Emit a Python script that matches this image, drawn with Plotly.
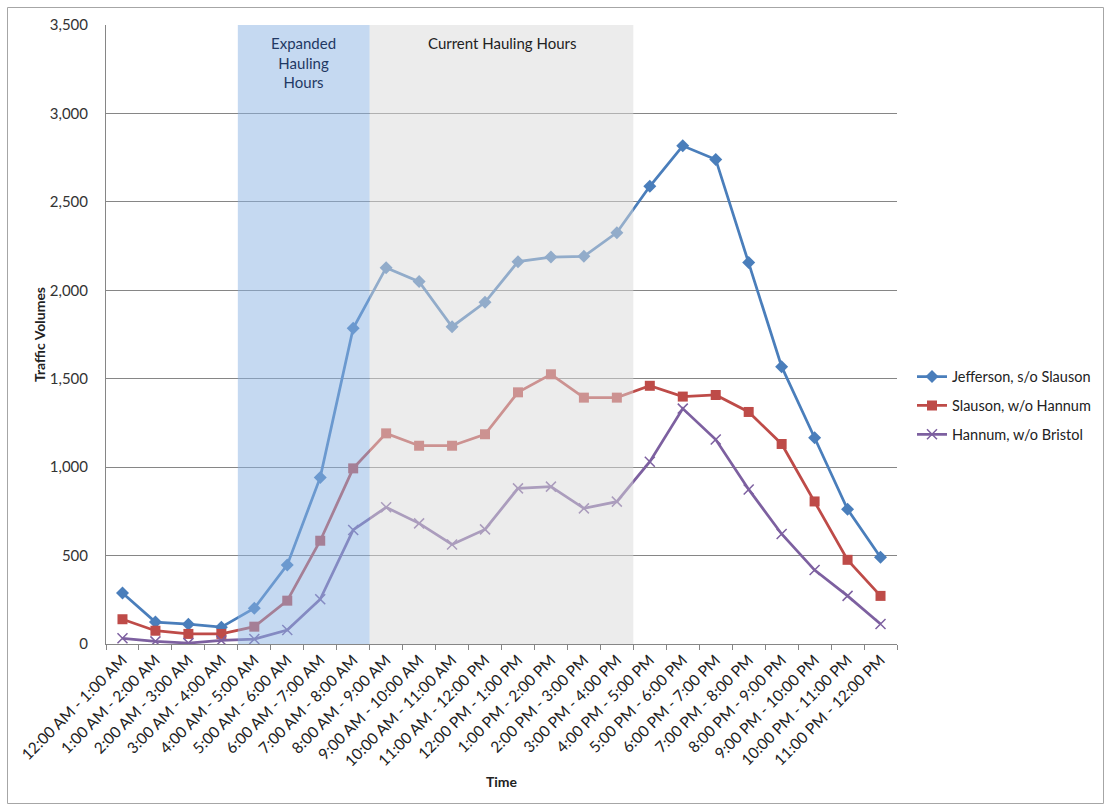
import plotly.graph_objects as go

# Hourly count periods
periods = [
    "12:00 AM - 1:00 AM", "1:00 AM - 2:00 AM", "2:00 AM - 3:00 AM", "3:00 AM - 4:00 AM",
    "4:00 AM - 5:00 AM", "5:00 AM - 6:00 AM", "6:00 AM - 7:00 AM", "7:00 AM - 8:00 AM",
    "8:00 AM - 9:00 AM", "9:00 AM - 10:00 AM", "10:00 AM - 11:00 AM", "11:00 AM - 12:00 PM",
    "12:00 PM - 1:00 PM", "1:00 PM - 2:00 PM", "2:00 PM - 3:00 PM", "3:00 PM - 4:00 PM",
    "4:00 PM - 5:00 PM", "5:00 PM - 6:00 PM", "6:00 PM - 7:00 PM", "7:00 PM - 8:00 PM",
    "8:00 PM - 9:00 PM", "9:00 PM - 10:00 PM", "10:00 PM - 11:00 PM", "11:00 PM - 12:00 PM",
]

jefferson = [288, 124, 112, 95, 202, 447, 942, 1785, 2128, 2049, 1794, 1932,
             2162, 2188, 2192, 2326, 2588, 2817, 2740, 2157, 1568, 1166, 762, 490]
slauson = [140, 75, 57, 57, 98, 245, 584, 993, 1191, 1121, 1121, 1186,
           1423, 1525, 1393, 1393, 1460, 1399, 1408, 1312, 1131, 806, 476, 272]
hannum = [32, 15, 5, 20, 28, 79, 253, 645, 773, 682, 563, 648,
          880, 890, 767, 805, 1031, 1331, 1156, 874, 622, 418, 272, 113]

y_ticks = [0, 500, 1000, 1500, 2000, 2500, 3000, 3500]

FONT = "Lato, 'Open Sans', sans-serif"

fig = go.Figure()

fig.add_trace(go.Scatter(
    x=periods, y=jefferson, name="Jefferson, s/o Slauson", mode="lines+markers",
    legendgroup="j",
    line=dict(color="#4A7EBB", width=2.75),
    marker=dict(symbol="diamond", size=10, color="#4A7EBB"),
))
fig.add_trace(go.Scatter(
    x=periods, y=slauson, name="Slauson, w/o Hannum", mode="lines+markers",
    legendgroup="s",
    line=dict(color="#BE4B48", width=2.75),
    marker=dict(symbol="square", size=10, color="#BE4B48"),
))
fig.add_trace(go.Scatter(
    x=periods, y=hannum, name="Hannum, w/o Bristol", mode="lines+markers",
    legendgroup="h",
    line=dict(color="#7D60A0", width=2.75),
    marker=dict(symbol="x-thin", size=10, color="#7D60A0",
                line=dict(color="#7D60A0", width=1.5)),
))

# Hauling-hour bands, laid over the series so the lines read through them
fig.add_shape(type="rect", xref="x", yref="y", x0=3.5, x1=7.5, y0=0, y1=3500,
              fillcolor="rgb(139,179,227)", opacity=0.5, line_width=0, layer="above")
fig.add_shape(type="rect", xref="x", yref="y", x0=7.5, x1=15.5, y0=0, y1=3500,
              fillcolor="rgb(217,217,217)", opacity=0.5, line_width=0, layer="above")

# Outer chart frame
W, H = 1111, 810
L, R, T, B = 106, 214, 25, 166
pw, ph = W - L - R, H - T - B
def px(xp):
    return (xp - L) / pw
def py(yp):
    return (H - B - yp) / ph
fig.add_shape(type="rect", xref="paper", yref="paper",
              x0=px(7.5), x1=px(1103.5), y0=py(803.5), y1=py(7.5),
              line=dict(color="#A6A6A6", width=1), fillcolor="rgba(0,0,0,0)", layer="below")

fig.add_annotation(x=5.5, y=3460, xref="x", yref="y", yanchor="top",
                   text="Expanded<br>Hauling<br>Hours", showarrow=False,
                   font=dict(family=FONT, size=15, color="#1F3864"))
fig.add_annotation(x=11.5, y=3460, xref="x", yref="y", yanchor="top",
                   text="Current Hauling Hours", showarrow=False,
                   font=dict(family=FONT, size=15, color="#222222"))

fig.update_layout(
    width=W, height=H,
    margin=dict(l=L, r=R, t=T, b=B),
    paper_bgcolor="white", plot_bgcolor="white",
    font=dict(family=FONT, size=14, color="#222222"),
    legend=dict(x=px(912), y=0.385, xanchor="left", yanchor="middle",
                font=dict(family=FONT, size=14.5, color="#222222"),
                itemwidth=30, tracegroupgap=7, bgcolor="rgba(0,0,0,0)"),
    showlegend=True,
)
fig.update_xaxes(
    type="category", tickangle=-45, tickson="boundaries", ticks="outside", ticklen=5,
    tickcolor="#868686", showline=True, linecolor="#868686", linewidth=1,
    showgrid=False, range=[-0.5, 23.5],
    tickfont=dict(family=FONT, size=15.5, color="#222222"),
    title=dict(text="<b>Time</b>", font=dict(family=FONT, size=14, color="#222222"), standoff=8),
)
fig.update_yaxes(
    range=[0, 3500], tickvals=y_ticks, tickformat=",d", showgrid=True, gridcolor="#868686",
    gridwidth=1, showline=True, linecolor="#868686", linewidth=1, zeroline=False,
    ticks="", ticklabelstandoff=14,
    tickfont=dict(family=FONT, size=15, color="#333333"),
    title=dict(text="<b>Traffic Volumes</b>", font=dict(family=FONT, size=14, color="#222222"), standoff=0),
)

fig.write_html("out.html")
